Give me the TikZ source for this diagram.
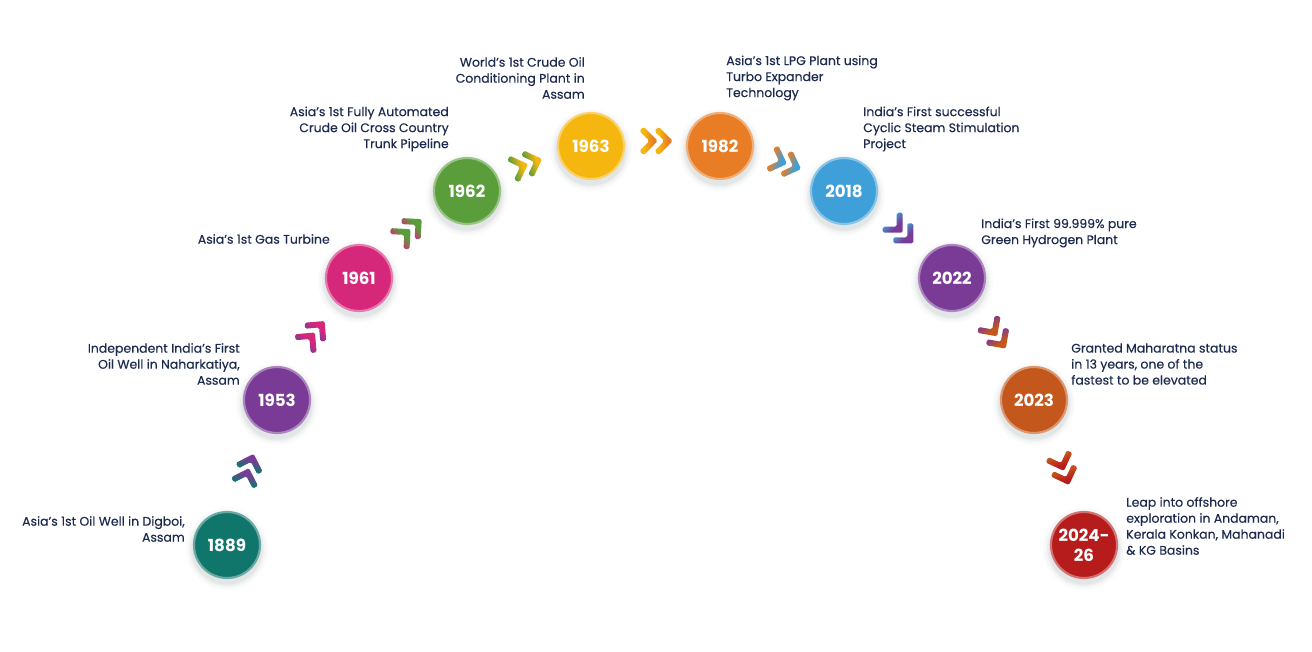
\documentclass[tikz,border=0pt]{standalone}
\usepackage{fontspec}
\setmainfont{Poppins}
\newfontfamily\lblfont{Poppins}[FakeBold=0.35]
\usetikzlibrary{calc}
\definecolor{txt}{HTML}{1D2B4F}
\definecolor{cteal}{HTML}{10766C}
\definecolor{cpurple}{HTML}{7A3B96}
\definecolor{cmagenta}{HTML}{D6287A}
\definecolor{cgreen}{HTML}{5A9E3B}
\definecolor{cyellow}{HTML}{F5B60F}
\definecolor{corange}{HTML}{E97D25}
\definecolor{cblue}{HTML}{3FA0D9}
\definecolor{cbrown}{HTML}{C4571B}
\definecolor{cred}{HTML}{B71C1C}
\definecolor{shad}{HTML}{5F7A78}
\tikzset{
  yearc/.style={circle, draw=#1!62!white, fill=#1, line width=1.6pt,
    minimum size=49.5pt, inner sep=0pt, text=white, align=center,
    font=\bfseries\fontsize{12.5}{15}\selectfont},
  lbl/.style={text=txt, font=\lblfont\fontsize{9.35}{12}\selectfont, inner sep=0pt},
  lblr/.style={lbl, anchor=east, align=right},
  lbll/.style={lbl, anchor=west, align=left},
}
\newcommand\yr[5]{%
  \foreach \r/\o in {41/0.025,39/0.035,37/0.05,35.5/0.07}{\fill[shad, opacity=\o] (#2,-#3-4) circle (\r);}
  \node[yearc=#4] (#1) at (#2,-#3) {#5};
}
\newcommand\chev[5]{%
  \pgfmathsetmacro\shang{#3}%
  \pgfdeclarehorizontalshading{sh#4#5}{100bp}{color(0bp)=(#4); color(38bp)=(#4); color(62bp)=(#5); color(100bp)=(#5)}%
  \foreach \k in {-1,1}{%
    \coordinate (T) at ($(#1,-#2)+(#3:\k*7.5)$);
    \shade[shading=sh#4#5, shading angle=\shang, rounded corners=1.2pt]
      ($(T)+(#3+135:17)+(#3-135:3)$) -- ($(T)+(#3+135:17)+(#3+45:3)$) --
      ($(T)+(#3:4.24)$) -- ($(T)+(#3-135:17)+(#3-45:3)$) --
      ($(T)+(#3-135:17)+(#3+135:3)$) -- ($(T)+(#3+180:4.24)$) -- cycle;
  }%
}
\begin{document}
\begin{tikzpicture}[x=0.75pt, y=0.75pt]
\path[use as bounding box, fill=white] (0,0) rectangle (1312,-652);
% chevrons
\chev{250}{465}{72}{cteal}{cpurple}
\chev{317}{330}{50}{cpurple}{cmagenta}
\chev{413}{227}{42}{cmagenta}{cgreen}
\chev{531}{163}{20}{cgreen}{cyellow}
\chev{661}{141}{0}{cyellow}{corange}
\chev{790}{165}{-20}{corange}{cblue}
\chev{905}{235}{-45}{cblue}{cpurple}
\chev{999}{339}{-55}{cpurple}{cbrown}
\chev{1065}{474}{-70}{cbrown}{cred}
% year circles
\yr{y1889}{227}{545}{cteal}{1889}
\yr{y1953}{277}{400}{cpurple}{1953}
\yr{y1961}{359}{278}{cmagenta}{1961}
\yr{y1962}{467}{191}{cgreen}{1962}
\yr{y1963}{591}{146}{cyellow}{1963}
\yr{y1982}{720}{146}{corange}{1982}
\yr{y2018}{844}{191}{cblue}{2018}
\yr{y2022}{952}{278}{cpurple}{2022}
\yr{y2023}{1034}{400}{cbrown}{2023}
\yr{y2024}{1084}{545}{cred}{2024-\\26}
% labels
\node[lblr] (l1889) at (185,-529) {Asia’s 1st Oil Well in Digboi,\\Assam};
\node[lblr] (l1953) at (240,-364) {Independent India’s First\\Oil Well in Naharkatiya,\\Assam};
\node[lblr] (l1961) at (330,-239) {Asia’s 1st Gas Turbine};
\node[lblr] (l1962) at (449,-129) {Asia’s 1st Fully Automated\\Crude Oil Cross Country\\Trunk Pipeline};
\node[lblr] (l1963) at (585,-78) {World’s 1st Crude Oil\\Conditioning Plant in\\Assam};
\node[lbll] (l1982) at (726,-78) {Asia’s 1st LPG Plant using\\Turbo Expander\\Technology};
\node[lbll] (l2018) at (863,-129) {India’s First successful\\Cyclic Steam Stimulation\\Project};
\node[lbll] (l2022) at (981,-233) {India’s First 99.999\% pure\\Green Hydrogen Plant};
\node[lbll] (l2023) at (1071,-364) {Granted Maharatna status\\in 13 years, one of the\\fastest to be elevated};
\node[lbll] (l2024) at (1126,-526) {Leap into offshore\\exploration in Andaman,\\Kerala Konkan, Mahanadi\\\& KG Basins};
\end{tikzpicture}
\end{document}
